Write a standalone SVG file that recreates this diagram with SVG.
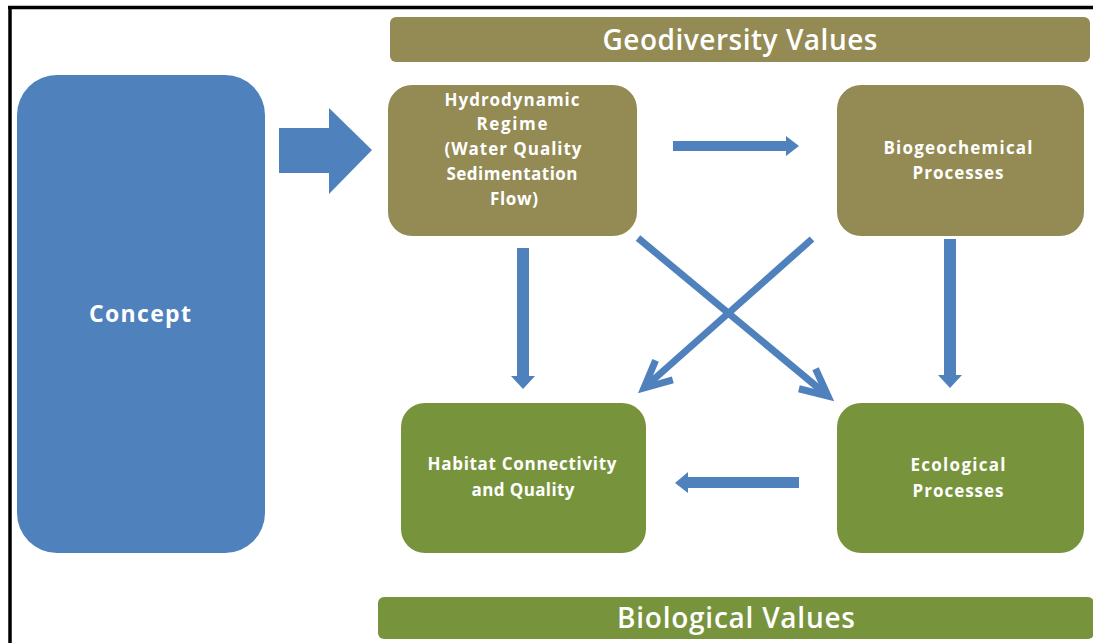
<svg xmlns="http://www.w3.org/2000/svg" width="1093" height="643" viewBox="0 0 1093 643">
  <style>
    .olive { fill: #938a54; }
    .green { fill: #77933c; }
    .blue { fill: #4f81bd; }
    .lbl { font-family: "Open Sans", "Liberation Sans", sans-serif; font-weight: bold; font-size: 17px; fill: #ffffff; text-anchor: middle; }
    .big { font-size: 23px; }
    .head { font-family: "Open Sans", "Liberation Sans", sans-serif; font-weight: 600; font-size: 28px; fill: #ffffff; text-anchor: middle; }
    .arrow { fill: #4f81bd; }
    .diag { fill: none; stroke: #4f81bd; stroke-width: 7; }
  </style>
  <defs>
    <marker id="openHead" markerUnits="userSpaceOnUse" markerWidth="40" markerHeight="40" viewBox="-34 -20 40 40" refX="0" refY="0" orient="auto" overflow="visible">
      <path d="M -27 -13 L 0 0 L -27 13" fill="none" stroke="#4f81bd" stroke-width="7" stroke-linejoin="miter"/>
    </marker>
  </defs>

  <rect width="1093" height="643" fill="#ffffff"/>

  <!-- frame: top and left edges -->
  <g id="frame" stroke="#000000" stroke-width="3.5">
    <line x1="8" y1="7.5" x2="1093" y2="7.5"/>
    <line x1="10" y1="6" x2="10" y2="643"/>
  </g>

  <g id="geodiversity-values">
    <rect class="olive" x="390" y="17" width="700" height="45" rx="6"/>
    <text class="head" x="740" y="50" textLength="275">Geodiversity Values</text>
  </g>

  <g id="concept">
    <rect class="blue" x="17" y="75" width="248" height="478" rx="40"/>
    <text class="lbl big" x="140" y="322" textLength="102">Concept</text>
  </g>

  <g id="hydrodynamic-regime">
    <rect class="olive" x="388" y="85" width="249" height="151" rx="24"/>
    <text class="lbl" x="512" y="106" textLength="135">Hydrodynamic</text>
    <text class="lbl" x="512" y="130" textLength="71">Regime</text>
    <text class="lbl" x="513" y="155" textLength="137">(Water Quality</text>
    <text class="lbl" x="512" y="180" textLength="131">Sedimentation</text>
    <text class="lbl" x="514" y="205" textLength="48">Flow)</text>
  </g>

  <g id="biogeochemical-processes">
    <rect class="olive" x="837" y="85" width="247" height="151" rx="24"/>
    <text class="lbl" x="958" y="154" textLength="149">Biogeochemical</text>
    <text class="lbl" x="958" y="179" textLength="91">Processes</text>
  </g>

  <g id="habitat-connectivity">
    <rect class="green" x="401" y="403" width="245" height="150" rx="24"/>
    <text class="lbl" x="522" y="470" textLength="189">Habitat Connectivity</text>
    <text class="lbl" x="523" y="496" textLength="103">and Quality</text>
  </g>

  <g id="ecological-processes">
    <rect class="green" x="837" y="403" width="247" height="150" rx="24"/>
    <text class="lbl" x="958" y="471" textLength="95">Ecological</text>
    <text class="lbl" x="958" y="497" textLength="91">Processes</text>
  </g>

  <g id="biological-values">
    <rect class="green" x="378" y="597" width="716" height="42" rx="6"/>
    <text class="head" x="736" y="628" textLength="238">Biological Values</text>
  </g>

  <g id="connectors">
    <!-- concept to hydrodynamic regime -->
    <polygon class="arrow" points="279,128 329,128 329,108 372,150 329,194 329,173 279,173"/>
    <!-- hydrodynamic regime to biogeochemical processes -->
    <polygon class="arrow" points="673,141 786,141 786,136 799,146 786,156 786,151 673,151"/>
    <!-- ecological processes to habitat -->
    <polygon class="arrow" points="799,477 688,477 688,472 675,483 688,493 688,488 799,488"/>
    <!-- hydrodynamic regime down to habitat -->
    <polygon class="arrow" points="517,248 529,248 529,376 535,376 523,389 511,376 517,376"/>
    <!-- biogeochemical down to ecological -->
    <polygon class="arrow" points="944,239 956,239 956,375 962,375 950,388 938,375 944,375"/>
    <!-- crossing diagonals -->
    <line class="diag" x1="638" y1="238" x2="828" y2="396" marker-end="url(#openHead)"/>
    <line class="diag" x1="812" y1="239" x2="644" y2="388" marker-end="url(#openHead)"/>
  </g>
</svg>
